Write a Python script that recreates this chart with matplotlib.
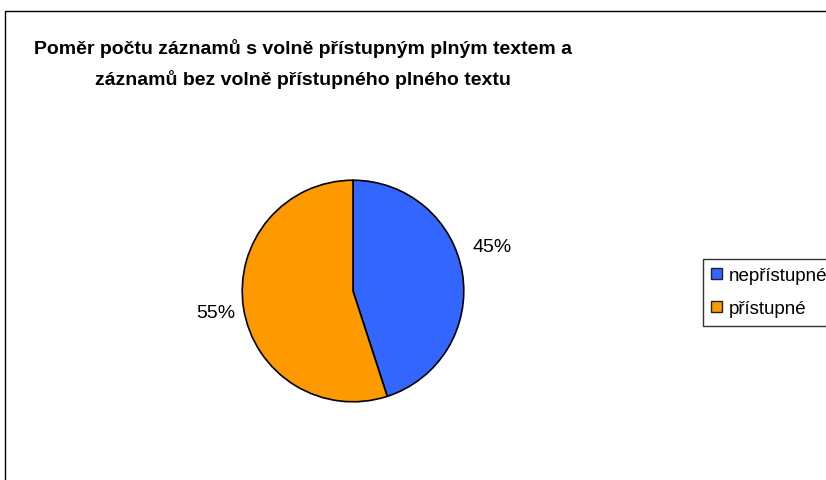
import matplotlib
matplotlib.use("Agg")
import matplotlib.pyplot as plt
from matplotlib.patches import Rectangle

plt.rcParams["font.family"] = ["Liberation Sans", "DejaVu Sans"]

labels = ["nepřístupné", "přístupné"]
values = [45, 55]
colors = ["#3366FF", "#FF9900"]
title = ("Poměr počtu záznamů s volně přístupným plným textem a\n"
         "záznamů bez volně přístupného plného textu")

W, H = 826, 481
fig = plt.figure(figsize=(W / 100, H / 100), dpi=100)

# outer chart-area frame (runs off the right and bottom edges)
fig.patches.append(Rectangle((5 / W, -0.1), 1.2, (H - 12) / H + 0.1,
                             transform=fig.transFigure, fill=False,
                             edgecolor="black", lw=1.0))

cx, cy, r = 353, 292, 113
ax = fig.add_axes([(cx - r) / W, (H - cy - r) / H, 2 * r / W, 2 * r / H])
wedges, texts, autotexts = ax.pie(
    values, colors=colors, startangle=90, counterclock=False,
    autopct="%1.0f%%", pctdistance=1.25,
    wedgeprops=dict(edgecolor="black", linewidth=1.2),
    textprops=dict(fontsize=14))
# Excel nudged the first label upward
x0, y0 = autotexts[0].get_position()
autotexts[0].set_position((x0 + 0.02, y0 + 0.21))
ax.set_xlim(-1.02, 1.02)
ax.set_ylim(-1.02, 1.02)
ax.set_aspect("equal")

fig.text(303 / W, 1 - 64 / H, title, ha="center", va="center",
         fontsize=14, fontweight="bold", linespacing=1.75)

leg = fig.legend(wedges, labels, loc="upper left",
                 bbox_to_anchor=(703 / W, 1 - 260 / H),
                 frameon=True, fancybox=False, fontsize=13.5,
                 handlelength=0.55, handleheight=0.55, handletextpad=0.35,
                 labelspacing=0.85, borderpad=0.45, borderaxespad=0)
leg.get_frame().set_edgecolor("black")
leg.get_frame().set_linewidth(1.0)
for h in leg.legend_handles:
    h.set_edgecolor("#222222")
    h.set_linewidth(1.0)

fig.savefig("out.png", dpi=100)
